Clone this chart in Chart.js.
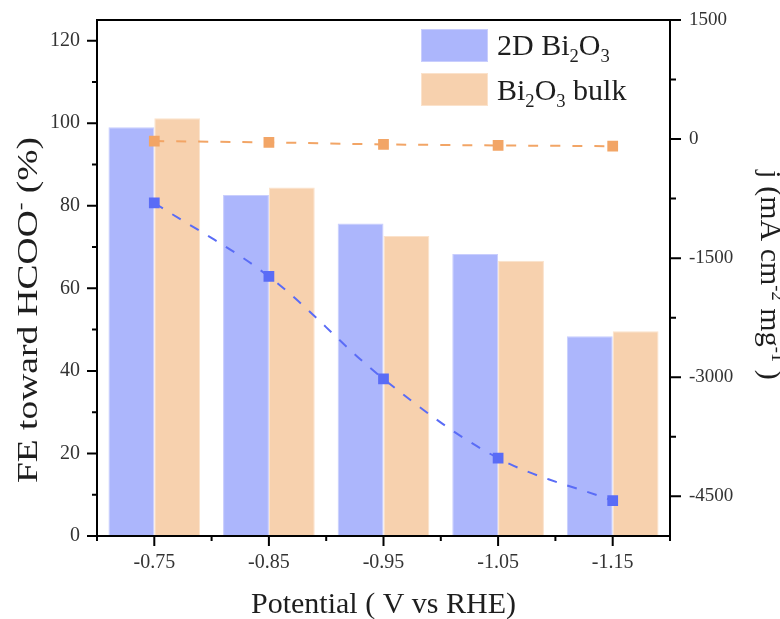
<!DOCTYPE html>
<html>
<head>
<meta charset="utf-8">
<script src="https://cdn.jsdelivr.net/npm/chart.js@4.4.0/dist/chart.umd.min.js"></script>
<style>
  html, body { margin: 0; padding: 0; background: #fff; }
  canvas { display: block; }
</style>
</head>
<body>
<canvas id="chart" width="780" height="619"></canvas>
<script>
// Applied potentials (V vs RHE)
const potentials = ['-0.75', '-0.85', '-0.95', '-1.05', '-1.15'];

// Faradaic efficiency toward formate (%)
const fe2D   = [99.0, 82.6, 75.7, 68.3, 48.4];
const feBulk = [101.2, 84.4, 72.7, 66.7, 49.6];

// Mass-normalised current density (mA cm-2 mg-1)
const j2D   = [-805, -1731, -3021, -4019, -4555];
const jBulk = [-25, -42, -67, -80, -90];

// Axis ticks
const feTicks      = [0, 20, 40, 60, 80, 100, 120];
const feMinorTicks = [10, 30, 50, 70, 90, 110];
const jTicks       = [-4500, -3000, -1500, 0, 1500];
const jMinorTicks  = [-3750, -2250, -750, 750];

const SERIF = '"Liberation Serif", "Times New Roman", serif';
const TEXT = '#1e1e1e';

const blueFill = '#ACB6FC', blueEdge = '#C9CEFD', blueLine = '#5A6CF6';
const orangeFill = '#F7D1AE', orangeEdge = '#FBE2CB', orangeLine = '#F2A566';

// Draws a run of text pieces with optional sub/superscripts, returns its width
function drawRich(ctx, parts, x, y, size, measureOnly) {
  let cx = x;
  for (const p of parts) {
    const fs = p.s ? size * 0.62 : size;
    ctx.font = fs + 'px ' + SERIF;
    const dy = p.s === 'sub' ? size * 0.24 : (p.s === 'sup' ? -size * 0.36 : 0);
    if (!measureOnly) ctx.fillText(p.t, cx, y + dy);
    cx += ctx.measureText(p.t).width;
  }
  return cx - x;
}

// Keep tick labels from pushing the plot area around
function noOverflow(s) {
  s.paddingTop = 0; s.paddingBottom = 0; s.paddingLeft = 0; s.paddingRight = 0;
}

const frameAndText = {
  id: 'frameAndText',
  afterDraw(chart) {
    const { ctx, chartArea: a, scales } = chart;
    const sx = scales.x, sy = scales.y, sj = scales.y1;
    ctx.save();

    // Frame
    ctx.strokeStyle = '#000';
    ctx.lineWidth = 2;
    ctx.strokeRect(a.left, a.top, a.right - a.left, a.bottom - a.top);

    // Tick marks
    ctx.beginPath();
    feTicks.forEach(v => { const p = sy.getPixelForValue(v); ctx.moveTo(a.left, p); ctx.lineTo(a.left - 10, p); });
    feMinorTicks.forEach(v => { const p = sy.getPixelForValue(v); ctx.moveTo(a.left, p); ctx.lineTo(a.left - 5, p); });
    jTicks.forEach(v => { const p = sj.getPixelForValue(v); ctx.moveTo(a.right, p); ctx.lineTo(a.right + 11, p); });
    jMinorTicks.forEach(v => { const p = sj.getPixelForValue(v); ctx.moveTo(a.right, p); ctx.lineTo(a.right + 6, p); });
    const step = sx.getPixelForValue(1) - sx.getPixelForValue(0);
    potentials.forEach((_, i) => {
      const p = sx.getPixelForValue(i);
      ctx.moveTo(p, a.bottom); ctx.lineTo(p, a.bottom + 10);
    });
    for (let i = 0; i <= potentials.length; i++) {
      const p = sx.getPixelForValue(0) - step / 2 + i * step;
      ctx.moveTo(p, a.bottom); ctx.lineTo(p, a.bottom + 5);
    }
    ctx.stroke();

    ctx.fillStyle = TEXT;
    ctx.textBaseline = 'alphabetic';
    ctx.textAlign = 'left';

    // Bottom axis title
    ctx.font = '30px ' + SERIF;
    ctx.textAlign = 'center';
    ctx.fillText('Potential ( V vs RHE)', (a.left + a.right) / 2, 613);
    ctx.textAlign = 'left';

    // Left axis title
    const leftParts = [{ t: 'FE toward HCOO' }, { t: '-', s: 'sup' }, { t: ' (%)' }];
    const lw = drawRich(ctx, leftParts, 0, 0, 30, true);
    ctx.save();
    ctx.translate(37, 310);
    ctx.rotate(-Math.PI / 2);
    ctx.scale(346 / lw, 1);
    drawRich(ctx, leftParts, -lw / 2, 0, 30);
    ctx.restore();

    // Right axis title
    const rightParts = [{ t: 'j (mA cm' }, { t: '-2', s: 'sup' }, { t: ' mg' }, { t: '-1', s: 'sup' }, { t: ' )' }];
    const rw = drawRich(ctx, rightParts, 0, 0, 30, true);
    ctx.save();
    ctx.translate(761, 275);
    ctx.rotate(Math.PI / 2);
    drawRich(ctx, rightParts, -rw / 2, 0, 30);
    ctx.restore();

    // Legend
    const entries = [
      { ds: chart.data.datasets[0], y: 29, base: 55, parts: [{ t: '2D Bi' }, { t: '2', s: 'sub' }, { t: 'O' }, { t: '3', s: 'sub' }] },
      { ds: chart.data.datasets[1], y: 73, base: 100, parts: [{ t: 'Bi' }, { t: '2', s: 'sub' }, { t: 'O' }, { t: '3', s: 'sub' }, { t: ' bulk' }] }
    ];
    entries.forEach(e => {
      ctx.fillStyle = e.ds.backgroundColor;
      ctx.fillRect(421, e.y, 67, 33);
      ctx.strokeStyle = e.ds.borderColor;
      ctx.lineWidth = 1;
      ctx.strokeRect(421.5, e.y + 0.5, 66, 32);
      ctx.fillStyle = TEXT;
      drawRich(ctx, e.parts, 497, e.base, 30);
    });

    ctx.restore();
  }
};

new Chart(document.getElementById('chart'), {
  data: {
    labels: potentials,
    datasets: [
      {
        type: 'bar', label: '2D Bi2O3', data: fe2D, yAxisID: 'y',
        backgroundColor: blueFill, borderColor: blueEdge, borderWidth: 1,
        categoryPercentage: 0.8, barPercentage: 1.0, order: 2
      },
      {
        type: 'bar', label: 'Bi2O3 bulk', data: feBulk, yAxisID: 'y',
        backgroundColor: orangeFill, borderColor: orangeEdge, borderWidth: 1,
        categoryPercentage: 0.8, barPercentage: 1.0, order: 2
      },
      {
        type: 'line', label: 'j 2D Bi2O3', data: j2D, yAxisID: 'y1',
        borderColor: blueLine, borderWidth: 2, borderDash: [10, 11], tension: 0.35,
        pointStyle: 'rect', pointRadius: 7.6, pointBorderWidth: 0,
        pointBackgroundColor: blueLine, fill: false, order: 1
      },
      {
        type: 'line', label: 'j Bi2O3 bulk', data: jBulk, yAxisID: 'y1',
        borderColor: orangeLine, borderWidth: 2, borderDash: [10, 12], tension: 0.3,
        pointStyle: 'rect', pointRadius: 7.6, pointBorderWidth: 0,
        pointBackgroundColor: orangeLine, fill: false, order: 1
      }
    ]
  },
  options: {
    responsive: false,
    animation: false,
    layout: { padding: { top: 20, left: 0, right: 0, bottom: 0 } },
    plugins: { legend: { display: false }, tooltip: { enabled: false } },
    scales: {
      x: {
        type: 'category', offset: true,
        grid: { display: false, drawTicks: false },
        border: { display: false },
        ticks: { color: '#333', font: { family: SERIF, size: 20 }, padding: 15, maxRotation: 0 },
        afterFit(s) { s.height = 83; noOverflow(s); }
      },
      y: {
        type: 'linear', position: 'left', min: 0, max: 125,
        grid: { display: false, drawTicks: false },
        border: { display: false },
        ticks: { color: '#333', font: { family: SERIF, size: 20 }, padding: 17, callback: v => String(v) },
        afterBuildTicks(s) { s.ticks = feTicks.map(v => ({ value: v })); },
        afterFit(s) { s.width = 97; noOverflow(s); }
      },
      y1: {
        type: 'linear', position: 'right', min: -5000, max: 1500,
        grid: { display: false, drawTicks: false },
        border: { display: false },
        ticks: { color: '#333', font: { family: SERIF, size: 19 }, padding: 19, callback: v => String(v) },
        afterBuildTicks(s) { s.ticks = jTicks.map(v => ({ value: v })); },
        afterFit(s) { s.width = 110; noOverflow(s); }
      }
    }
  },
  plugins: [frameAndText]
});
</script>
</body>
</html>
